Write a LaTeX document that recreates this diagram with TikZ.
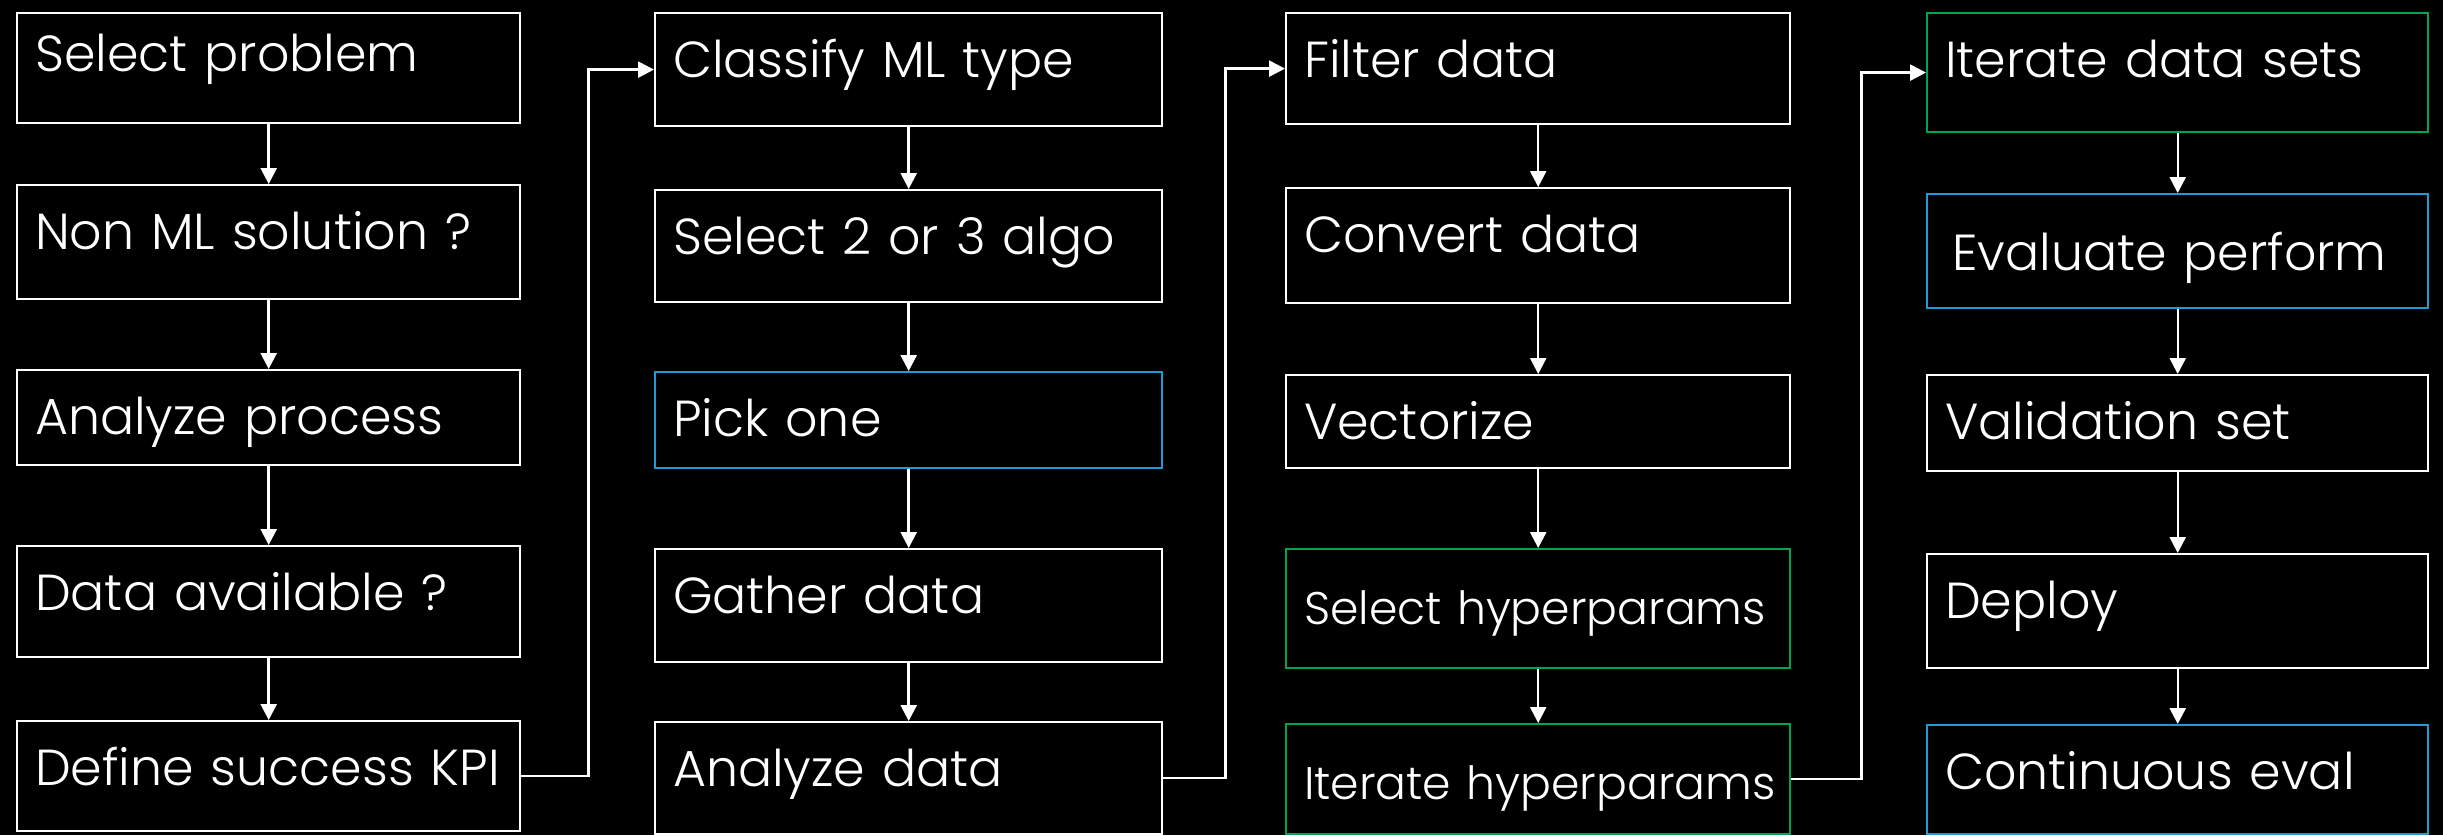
\documentclass[tikz,border=0pt]{standalone}
\usepackage{fontspec}
\setmainfont{Poppins Light}
\usetikzlibrary{arrows.meta,positioning}
\definecolor{boxblue}{RGB}{30,155,215}
\definecolor{boxgreen}{RGB}{0,165,80}
\tikzset{>={Triangle[length=4.5pt,width=4.5pt]}}
\tikzset{
  stepbox/.style 2 args={draw=white, line width=0.6pt, text=white, anchor=north west,
    inner xsep=0.18cm, inner ysep=0pt, align=left, text width=#1,
    text height=0.64cm, text depth=#2, font=\fontsize{14.4}{17}\selectfont,
    execute at begin node={\hyphenpenalty=10000\relax}},
  smalltext/.style={font=\fontsize{13}{16}\selectfont, text height=0.75cm},
  flow/.style={->, draw=white, line width=0.7pt}
}

\begin{document}
\begin{tikzpicture}[x=0.01cm, y=-0.01cm]
    \fill[black] (0,0) rectangle (2443,835);
    \useasboundingbox (0,0) rectangle (2443,835);

    \node[stepbox={4.67cm}{0.52cm}, text height=0.58cm] (prob) at (16,12) {Select problem};
    \node[stepbox={4.67cm}{0.50cm}] (nonml) at (16,184) {Non ML solution ?};
    \node[stepbox={4.67cm}{0.31cm}] (proc) at (16,369) {Analyze process};
    \node[stepbox={4.67cm}{0.47cm}] (avail) at (16,545) {Data available ?};
    \node[stepbox={4.67cm}{0.46cm}] (kpi) at (16,720) {Define success KPI};

    \node[stepbox={4.71cm}{0.49cm}] (mltype) at (654,12) {Classify ML type};
    \node[stepbox={4.71cm}{0.48cm}] (algo) at (654,189) {Select 2 or 3 algo};
    \node[stepbox={4.71cm}{0.32cm}, draw=boxblue] (pick) at (654,371) {Pick one};
    \node[stepbox={4.71cm}{0.49cm}] (gather) at (654,548) {Gather data};
    \node[stepbox={4.71cm}{0.48cm}] (anadata) at (654,721) {Analyze data};

    \node[stepbox={4.68cm}{0.47cm}] (filter) at (1285,12) {Filter data};
    \node[stepbox={4.68cm}{0.51cm}] (convert) at (1285,187) {Convert data};
    \node[stepbox={4.68cm}{0.29cm}] (vector) at (1285,374) {Vectorize};
    \node[stepbox={4.68cm}{0.44cm}, smalltext, draw=boxgreen] (selhyp) at (1285,548) {Select hyperparams};
    \node[stepbox={4.68cm}{0.35cm}, smalltext, draw=boxgreen] (iterhyp) at (1285,723) {\mbox{Iterate hyperparams}};

    \node[stepbox={4.65cm}{0.55cm}, draw=boxgreen] (itersets) at (1926,12) {Iterate data sets};
    \node[stepbox={4.65cm}{0.38cm}, text height=0.76cm, draw=boxblue] (evalperf) at (1926,193) {\hspace*{0.07cm}Evaluate perform};
    \node[stepbox={4.65cm}{0.32cm}] (valid) at (1926,374) {Validation set};
    \node[stepbox={4.65cm}{0.50cm}] (deploy) at (1926,553) {Deploy};
    \node[stepbox={4.65cm}{0.45cm}, draw=boxblue] (conteval) at (1926,724) {Continuous eval};

    \foreach \a/\b in {prob/nonml, nonml/proc, proc/avail, avail/kpi,
                       mltype/algo, algo/pick, pick/gather, gather/anadata,
                       filter/convert, convert/vector, vector/selhyp, selhyp/iterhyp,
                       itersets/evalperf, evalperf/valid, valid/deploy, deploy/conteval}
        \draw[flow] (\a.south) -- (\a.south |- \b.north);

    \draw[flow] (kpi.east) -- ++(67,0) |- (mltype.west);
    \draw[flow] (anadata.east) -- ++(62,0) |- (filter.west);
    \draw[flow] (iterhyp.east) -- ++(70,0) |- (itersets.west);
\end{tikzpicture}
\end{document}
